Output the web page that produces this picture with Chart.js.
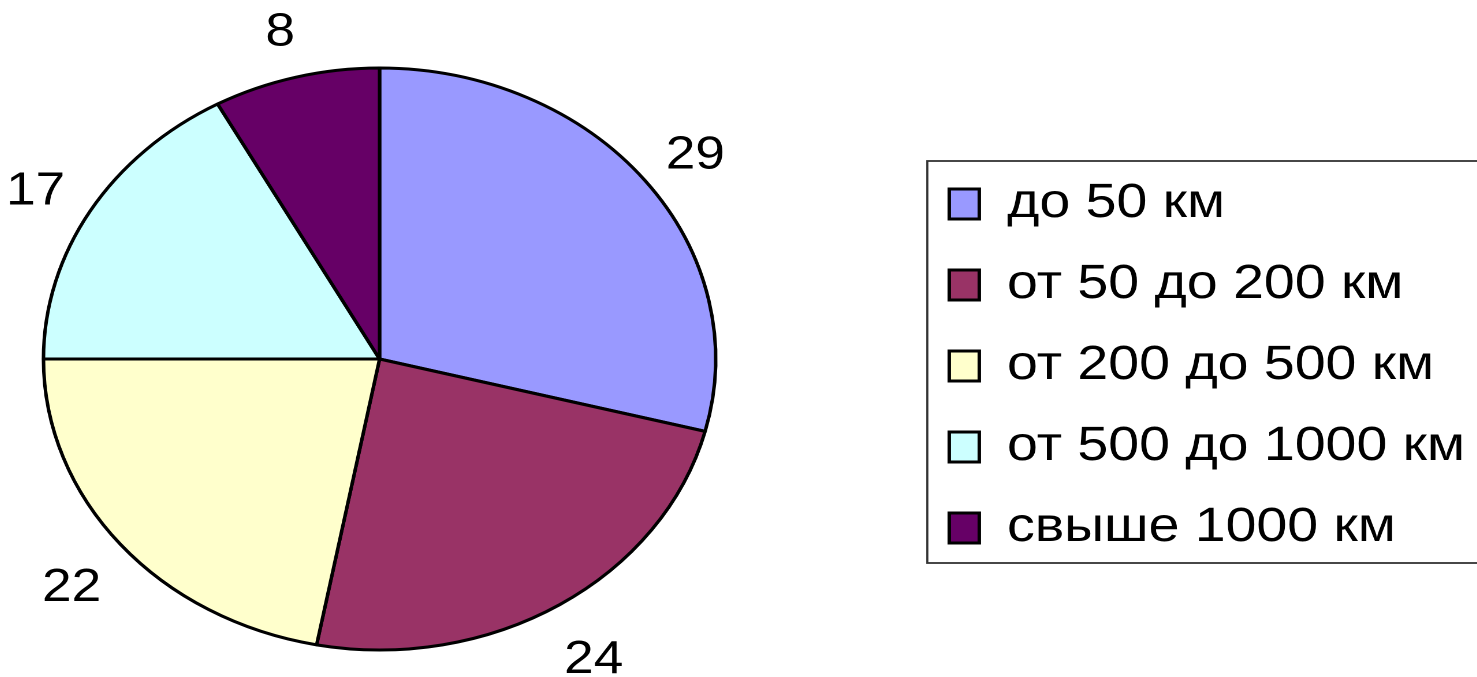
<!DOCTYPE html>
<html>
<head>
<meta charset="utf-8">
<script src="https://cdn.jsdelivr.net/npm/chart.js@4.4.1/dist/chart.umd.min.js"></script>
<style>
    html, body { margin: 0; padding: 0; background: #fff; overflow: hidden; width: 1477px; height: 677px; }
    /* картинка в оригинале растянута по горизонтали */
    #wrap { position: absolute; left: -151.9px; top: 0; width: 1410px; height: 677px;
            transform: scaleX(1.155); transform-origin: 0 0; }
</style>
</head>
<body>
<div id="wrap">
    <canvas id="distance-chart" width="1410" height="677"></canvas>
</div>
<script>
    // данные диаграммы
    const categories = ['до 50 км', 'от 50 до 200 км', 'от 200 до 500 км', 'от 500 до 1000 км', 'свыше 1000 км'];
    const shares = [29, 24, 22, 17, 8];
    const sliceColors = ['#9999FF', '#993366', '#FFFFCC', '#CCFFFF', '#660066'];

    const FONT = 'Liberation Sans, Arial, sans-serif';

    // подписи значений снаружи круга
    const valueLabelsPlugin = {
        id: 'valueLabels',
        afterDatasetsDraw(chart) {
            const ctx = chart.ctx;
            const values = chart.data.datasets[0].data;
            ctx.save();
            ctx.font = '46px ' + FONT;
            ctx.fillStyle = '#000';
            ctx.textAlign = 'center';
            ctx.textBaseline = 'middle';
            chart.getDatasetMeta(0).data.forEach((arc, i) => {
                const a = (arc.startAngle + arc.endAngle) / 2;
                const r = arc.outerRadius + 55;
                ctx.fillText(String(values[i]), arc.x + r * Math.cos(a), arc.y + r * Math.sin(a) + 9);
            });
            ctx.restore();
        }
    };

    // рамка вокруг легенды
    const legendFramePlugin = {
        id: 'legendFrame',
        afterDraw(chart) {
            const boxes = chart.legend.legendHitBoxes;
            if (!boxes || !boxes.length) return;
            const first = boxes[0];
            const last = boxes[boxes.length - 1];
            const top = first.top - 19;
            const bottom = last.top + last.height + 11;
            const ctx = chart.ctx;
            ctx.save();
            ctx.strokeStyle = '#333';
            ctx.lineWidth = 1.8;
            ctx.strokeRect(first.left - 19, top, chart.width, bottom - top);
            ctx.restore();
        }
    };

    const ctx = document.getElementById('distance-chart').getContext('2d');
    new Chart(ctx, {
        type: 'pie',
        data: {
            labels: categories,
            datasets: [{
                data: shares,
                backgroundColor: sliceColors,
                borderColor: '#000',
                borderWidth: 3
            }]
        },
        options: {
            responsive: false,
            animation: false,
            devicePixelRatio: 2,
            radius: 291,
            layout: { padding: { top: 41, bottom: 0, left: 0, right: 0 } },
            plugins: {
                tooltip: { enabled: false },
                legend: {
                    position: 'right',
                    title: { display: true, text: '', padding: 6.4, font: { size: 1 } },
                    labels: {
                        font: { size: 48, family: FONT },
                        color: '#000',
                        boxWidth: 26,
                        boxHeight: 30,
                        padding: 33
                    }
                }
            }
        },
        plugins: [valueLabelsPlugin, legendFramePlugin]
    });
</script>
</body>
</html>
